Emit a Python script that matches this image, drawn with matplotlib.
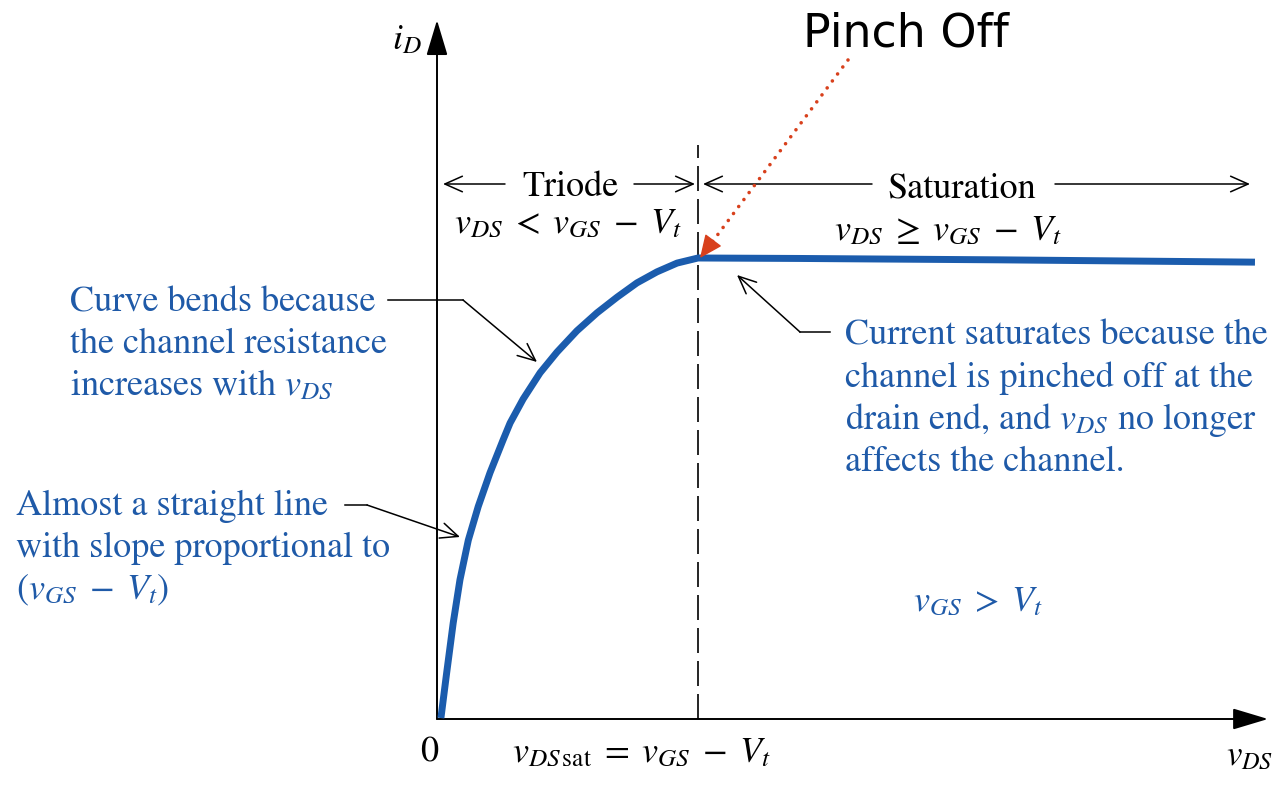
import matplotlib
matplotlib.use("Agg")
import matplotlib.pyplot as plt

plt.rcParams['font.family'] = ['STIXGeneral', 'DejaVu Serif']
plt.rcParams['mathtext.fontset'] = 'stix'

# ---- data: normalised drain current vs drain-source voltage (vDS_sat = 1, iD_sat = 1)
vds = [0.015, 0.037, 0.062, 0.088, 0.120, 0.158, 0.203, 0.253, 0.280, 0.330,
       0.395, 0.460, 0.536, 0.613, 0.690, 0.766, 0.843, 0.920, 1.000,
       1.391, 2.157, 3.134]
i_d = [0.002, 0.100, 0.208, 0.302, 0.388, 0.461, 0.534, 0.605, 0.642, 0.694,
       0.751, 0.796, 0.842, 0.881, 0.915, 0.946, 0.970, 0.989, 1.000,
       0.999, 0.996, 0.991]
vds_sat = 1.0
x_axis_end = 3.184
y_axis_end = 1.516
region_labels = ["Triode", "Saturation"]

BLUE_LINE = '#1b5cad'
BLUE_TXT = '#1f5aa8'
RED = '#d8401c'

W, H = 1278, 797
X0, Y0, SX, SY = 437, 719, 261, 461  # layout: origin pixel and scale


def P(px, py):
    return ((px - X0) / SX, (Y0 - py) / SY)


fig = plt.figure(figsize=(W / 100, H / 100), dpi=100)
ax = fig.add_axes([0, 0, 1, 1])
ax.set_xlim(-X0 / SX, (W - X0) / SX)
ax.set_ylim(-(H - Y0) / SY, Y0 / SY)
ax.axis('off')

# axes with filled arrowheads
axstyle = dict(arrowstyle='-|>,head_length=1.1,head_width=0.33', mutation_scale=20,
               lw=1.4, color='black', shrinkA=0, shrinkB=0)
ax.annotate('', xy=(x_axis_end, 0), xytext=(0, 0), arrowprops=axstyle)
ax.annotate('', xy=(0, y_axis_end), xytext=(0, 0), arrowprops=axstyle)

# dashed vDS_sat line
ax.plot([vds_sat, vds_sat], [0, P(0, 145)[1]], color='black', lw=1.2, dashes=(15, 4.8))

# curve
ax.plot(vds, i_d, color=BLUE_LINE, lw=5, solid_capstyle='butt', solid_joinstyle='round', zorder=3)

# region arrows
open_arrow = dict(arrowstyle='->,head_length=0.9,head_width=0.4', mutation_scale=14,
                  lw=1.1, color='black', shrinkA=0, shrinkB=0)
ax.annotate('', xy=P(443, 184), xytext=P(505, 184), arrowprops=open_arrow)
ax.annotate('', xy=P(695, 184), xytext=P(634, 184), arrowprops=open_arrow)
ax.annotate('', xy=P(703, 184), xytext=P(872, 184), arrowprops=open_arrow)
ax.annotate('', xy=P(1250, 184), xytext=P(1055, 184), arrowprops=open_arrow)
ax.text(*P(570, 196), region_labels[0], fontsize=26, ha='center', va='baseline')
ax.text(*P(962, 198), region_labels[1], fontsize=26, ha='center', va='baseline')

ax.text(*P(454, 233), r'$v_{DS}\;<\;v_{GS}\;-\;V_t$', fontsize=26, ha='left', va='baseline')
ax.text(*P(834, 240), r'$v_{DS}\;\geq\;v_{GS}\;-\;V_t$', fontsize=26, ha='left', va='baseline')

# axis labels
ax.text(*P(392, 49), r'$i_D$', fontsize=26, ha='left', va='baseline')
ax.text(*P(420, 762), '0', fontsize=26, ha='left', va='baseline')
ax.text(*P(512, 762), r'$v_{DS\,\mathrm{sat}}\;=\;v_{GS}\;-\;V_t$', fontsize=26, ha='left', va='baseline')
ax.text(*P(1226, 765), r'$v_{DS}$', fontsize=25, ha='left', va='baseline')

# blue annotations
tk = dict(fontsize=26, color=BLUE_TXT, ha='left', va='baseline')
ax.text(*P(70, 312), 'Curve bends because', **tk)
ax.text(*P(70, 353), 'the channel resistance', **tk)
ax.text(*P(70, 395), r'increases with $v_{DS}$', **tk)

ax.text(*P(16, 515), 'Almost a straight line', **tk)
ax.text(*P(16, 557), 'with slope proportional to', **tk)
ax.text(*P(16, 599), r'$(v_{GS}\;-\;V_t)$', **tk)

ax.text(*P(845, 345), 'Current saturates because the', **tk)
ax.text(*P(845, 387), 'channel is pinched off at the', **tk)
ax.text(*P(845, 429), r'drain end, and $v_{DS}$ no longer', **tk)
ax.text(*P(845, 471), 'affects the channel.', **tk)

ax.text(*P(913, 611), r'$v_{GS}\;>\;V_t$', **tk)

# leader lines
lead = dict(color='black', lw=1.1)
ax.plot(*zip(P(388, 300), P(463, 300)), **lead)
ax.annotate('', xy=P(537, 362), xytext=P(463, 300), arrowprops=open_arrow)
ax.plot(*zip(P(345, 505), P(367, 505)), **lead)
ax.annotate('', xy=P(460, 537), xytext=P(367, 505), arrowprops=open_arrow)
ax.plot(*zip(P(830, 332), P(800, 332)), **lead)
ax.annotate('', xy=P(737, 275), xytext=P(800, 332), arrowprops=open_arrow)

# Pinch off callout
ax.text(*P(906, 47), 'Pinch Off', fontsize=33, family='DejaVu Sans', ha='center', va='baseline')
ax.plot(*zip(P(848, 60), P(710, 245)), color=RED, lw=2.6, dashes=(0.01, 2.4),
        dash_capstyle='round', zorder=5)
ax.annotate('', xy=P(700, 258), xytext=P(712, 242),
            arrowprops=dict(arrowstyle='-|>,head_length=0.9,head_width=0.4', mutation_scale=16,
                            lw=1, color=RED, shrinkA=0, shrinkB=0), zorder=5)

fig.savefig('out.png', dpi=100)
